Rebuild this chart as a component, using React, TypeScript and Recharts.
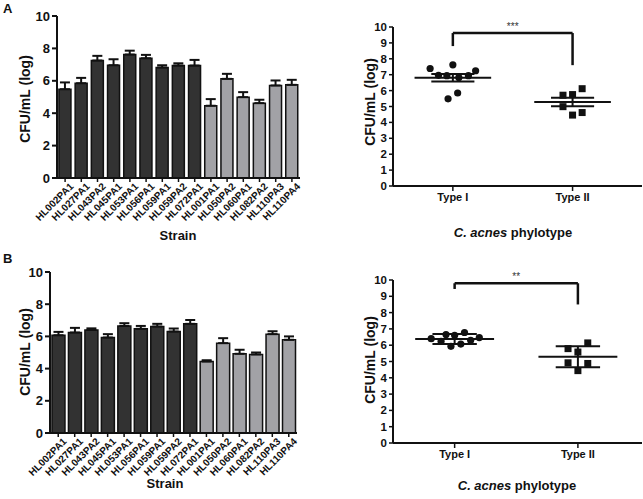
import React from 'react';
import {
  BarChart, Bar, XAxis, YAxis, ErrorBar, Cell,
  ScatterChart, Scatter, ReferenceLine,
} from 'recharts';

const FONT = '"Liberation Sans", Arial, Helvetica, sans-serif';
const INK = '#111111';

// ---- Data ----
const strains = [
  'HL002PA1', 'HL027PA1', 'HL043PA2', 'HL045PA1', 'HL053PA1', 'HL056PA1', 'HL059PA1',
  'HL059PA2', 'HL072PA1', 'HL001PA1', 'HL050PA2', 'HL060PA1', 'HL082PA2', 'HL110PA3', 'HL110PA4',
];
const strainType = ['I', 'I', 'I', 'I', 'I', 'I', 'I', 'I', 'I', 'II', 'II', 'II', 'II', 'II', 'II'];

const panelAValues = [5.48, 5.85, 7.25, 6.96, 7.62, 7.39, 6.82, 6.94, 6.94, 4.46, 6.12, 4.99, 4.62, 5.71, 5.75];
const panelAErrors = [0.42, 0.33, 0.29, 0.37, 0.24, 0.21, 0.14, 0.14, 0.35, 0.41, 0.31, 0.31, 0.21, 0.31, 0.31];
const panelBValues = [6.07, 6.24, 6.40, 5.93, 6.65, 6.47, 6.61, 6.30, 6.78, 4.44, 5.58, 4.92, 4.88, 6.14, 5.79];
const panelBErrors = [0.21, 0.29, 0.10, 0.21, 0.17, 0.18, 0.17, 0.19, 0.24, 0.08, 0.31, 0.25, 0.12, 0.18, 0.21];

const barTicks = [0, 2, 4, 6, 8, 10];
const dotTicks = [0, 1, 2, 3, 4, 5, 6, 7, 8, 9, 10];
const typeLabels = ['Type I', 'Type II'];

// dot plot A
const aTypeI = [5.48, 5.85, 7.25, 6.96, 7.62, 7.39, 6.82, 6.94, 6.94];
const aTypeIJitter = [-0.04, 0.04, 0.19, -0.12, 0, -0.19, 0.05, -0.05, 0.13];
const aTypeII = [4.46, 6.12, 4.99, 4.62, 5.71, 5.75];
const aTypeIIJitter = [0, 0.08, -0.08, 0.08, -0.08, 0];
const aMeans = [6.81, 5.28];
const aSpread = [0.24, 0.27];
const aBracket = [9.62, 8.8, 7.6];
const aStars = '***';

// dot plot B
const bTypeI = [6.07, 6.24, 6.40, 5.93, 6.65, 6.47, 6.61, 6.30, 6.78];
const bTypeIJitter = [0.05, -0.11, -0.19, -0.03, -0.07, 0.2, 0, 0.13, 0.08];
const bTypeII = [4.44, 5.58, 4.92, 4.88, 6.14, 5.79];
const bTypeIIJitter = [0, 0, -0.08, 0.08, 0.08, -0.08];
const bMeans = [6.38, 5.29];
const bSpread = [0.30, 0.65];
const bBracket = [9.8, 9.45, 8.5];
const bStars = '**';

const DARK = '#323232';
const LIGHT = '#a2a2a6';

// ---- Components ----
function StrainBars({ values, errors, width, height, margin }: any) {
  const data = strains.map((s, i) => ({ strain: s, v: values[i], e: [0, errors[i]], t: strainType[i] }));
  return (
    <BarChart width={width} height={height} data={data} margin={margin} barCategoryGap="12%">
      <XAxis
        dataKey="strain"
        interval={0}
        height={40}
        angle={-45}
        textAnchor="end"
        tickMargin={0}
        dx={4}
        tick={{ fontSize: 10, fontWeight: 'bold', fill: INK, fontFamily: FONT }}
        tickSize={4}
        axisLine={{ stroke: INK, strokeWidth: 2 }}
        tickLine={{ stroke: INK, strokeWidth: 1.5 }}
      />
      <YAxis
        type="number"
        domain={[0, 10]}
        ticks={barTicks}
        width={40}
        tickSize={5}
        tick={{ fontSize: 13, fontWeight: 'bold', fill: INK, fontFamily: FONT }}
        axisLine={{ stroke: INK, strokeWidth: 2 }}
        tickLine={{ stroke: INK, strokeWidth: 2 }}
      />
      <Bar dataKey="v" isAnimationActive={false} stroke={INK} strokeWidth={1.5}>
        {data.map((d) => (
          <Cell key={d.strain} fill={d.t === 'I' ? DARK : LIGHT} />
        ))}
        <ErrorBar dataKey="e" width={5} stroke={INK} strokeWidth={2} direction="y" isAnimationActive={false} />
      </Bar>
    </BarChart>
  );
}

const Dot = (props: any) => <circle cx={props.cx} cy={props.cy} r={3.6} fill={INK} />;
const Sq = (props: any) => <rect x={props.cx - 3.5} y={props.cy - 3.5} width={7} height={7} fill={INK} />;

const StarsLabel = (props: any) => {
  const vb = props.viewBox || {};
  const cx = (vb.x ?? 0) + (vb.width ?? 0) / 2;
  const y = vb.y ?? 0;
  return (
    <text x={cx} y={y - 3} textAnchor="middle" fontFamily={FONT} fontSize={10} fill="#333">
      {props.stars}
    </text>
  );
};

function DotPlot({ t1, j1, t2, j2, means, spread, bracket, stars, domainX, width, height, margin }: any) {
  const d1 = t1.map((v: number, i: number) => ({ x: 1 + j1[i], y: v }));
  const d2 = t2.map((v: number, i: number) => ({ x: 2 + j2[i], y: v }));
  const half = 0.32;
  const cap = 0.18;
  const lineProps = { stroke: INK, strokeWidth: 2, ifOverflow: 'visible' as const };
  return (
    <ScatterChart width={width} height={height} margin={margin}>
      <XAxis
        type="number"
        dataKey="x"
        domain={domainX}
        ticks={[1, 2]}
        allowDataOverflow
        tickFormatter={(v: number) => typeLabels[v - 1]}
        height={30}
        tickSize={5}
        tick={{ fontSize: 11, fontWeight: 'bold', fill: INK, fontFamily: FONT }}
        axisLine={{ stroke: INK, strokeWidth: 2 }}
        tickLine={{ stroke: INK, strokeWidth: 1.5 }}
      />
      <YAxis
        type="number"
        dataKey="y"
        domain={[0, 10]}
        ticks={dotTicks}
        interval={0}
        width={30}
        tickSize={4}
        tick={{ fontSize: 11.5, fontWeight: 'bold', fill: INK, fontFamily: FONT }}
        axisLine={{ stroke: INK, strokeWidth: 2 }}
        tickLine={{ stroke: INK, strokeWidth: 1.5 }}
      />
      <Scatter data={d1} shape={<Dot />} isAnimationActive={false} />
      <Scatter data={d2} shape={<Sq />} isAnimationActive={false} />
      {means.map((m: number, i: number) => (
        <ReferenceLine key={`m${i}`} segment={[{ x: i + 1 - half, y: m }, { x: i + 1 + half, y: m }]} {...lineProps} />
      ))}
      {means.map((m: number, i: number) => (
        <ReferenceLine key={`hi${i}`} segment={[{ x: i + 1 - cap, y: m + spread[i] }, { x: i + 1 + cap, y: m + spread[i] }]} {...lineProps} />
      ))}
      {means.map((m: number, i: number) => (
        <ReferenceLine key={`lo${i}`} segment={[{ x: i + 1 - cap, y: m - spread[i] }, { x: i + 1 + cap, y: m - spread[i] }]} {...lineProps} />
      ))}
      {means.map((m: number, i: number) => (
        <ReferenceLine key={`st${i}`} segment={[{ x: i + 1, y: m - spread[i] }, { x: i + 1, y: m + spread[i] }]} {...lineProps} />
      ))}
      <ReferenceLine segment={[{ x: 1, y: bracket[1] }, { x: 1, y: bracket[0] }]} stroke={INK} strokeWidth={2.5} ifOverflow="visible" />
      <ReferenceLine segment={[{ x: 2, y: bracket[2] }, { x: 2, y: bracket[0] }]} stroke={INK} strokeWidth={2.5} ifOverflow="visible" />
      <ReferenceLine
        segment={[{ x: 1, y: bracket[0] }, { x: 2, y: bracket[0] }]}
        stroke={INK}
        strokeWidth={2.5}
        ifOverflow="visible"
        label={<StarsLabel stars={stars} />}
      />
    </ScatterChart>
  );
}

const baseText: React.CSSProperties = {
  position: 'absolute',
  fontFamily: FONT,
  fontWeight: 'bold',
  color: INK,
  whiteSpace: 'nowrap',
  lineHeight: 1,
};

function Title({ x, y, size, rotate, children }: any) {
  return (
    <div
      style={{
        ...baseText,
        left: x,
        top: y,
        fontSize: size,
        transform: `translate(-50%, -50%)${rotate ? ' rotate(-90deg)' : ''}`,
      }}
    >
      {children}
    </div>
  );
}

export default function App() {
  return (
    <div style={{ position: 'absolute', left: 0, top: 0, width: 643, height: 499, background: '#fff', overflow: 'hidden' }}>
      <div style={{ ...baseText, left: 3, top: 2, fontSize: 13 }}>A</div>
      <div style={{ ...baseText, left: 3, top: 252, fontSize: 13 }}>B</div>

      {/* A left */}
      <div style={{ position: 'absolute', left: 0, top: 0 }}>
        <StrainBars values={panelAValues} errors={panelAErrors} width={310} height={250}
          margin={{ top: 16, right: 10, left: 17, bottom: 32 }} />
      </div>
      <Title x={25} y={99} size={14} rotate>CFU/mL (log)</Title>
      <Title x={178} y={235} size={13}>Strain</Title>

      {/* A right */}
      <div style={{ position: 'absolute', left: 330, top: 0 }}>
        <DotPlot t1={aTypeI} j1={aTypeIJitter} t2={aTypeII} j2={aTypeIIJitter} means={aMeans} spread={aSpread}
          bracket={aBracket} stars={aStars} domainX={[0.5, 2.58]} width={313} height={250}
          margin={{ top: 27, right: 1, left: 33, bottom: 34 }} />
      </div>
      <Title x={370} y={102} size={14} rotate>CFU/mL (log)</Title>
      <Title x={513} y={232} size={13}>
        <i>C. acnes</i> phylotype
      </Title>

      {/* B left */}
      <div style={{ position: 'absolute', left: 0, top: 250 }}>
        <StrainBars values={panelBValues} errors={panelBErrors} width={307} height={249}
          margin={{ top: 22, right: 10, left: 10, bottom: 26 }} />
      </div>
      <Title x={25} y={352} size={14} rotate>CFU/mL (log)</Title>
      <Title x={165} y={483} size={13}>Strain</Title>

      {/* B right */}
      <div style={{ position: 'absolute', left: 330, top: 250 }}>
        <DotPlot t1={bTypeI} j1={bTypeIJitter} t2={bTypeII} j2={bTypeIIJitter} means={bMeans} spread={bSpread}
          bracket={bBracket} stars={bStars} domainX={[0.5, 2.52]} width={313} height={249}
          margin={{ top: 30, right: 1, left: 33, bottom: 26 }} />
      </div>
      <Title x={370} y={360} size={14} rotate>CFU/mL (log)</Title>
      <Title x={517} y={485} size={13}>
        <i>C. acnes</i> phylotype
      </Title>
    </div>
  );
}
